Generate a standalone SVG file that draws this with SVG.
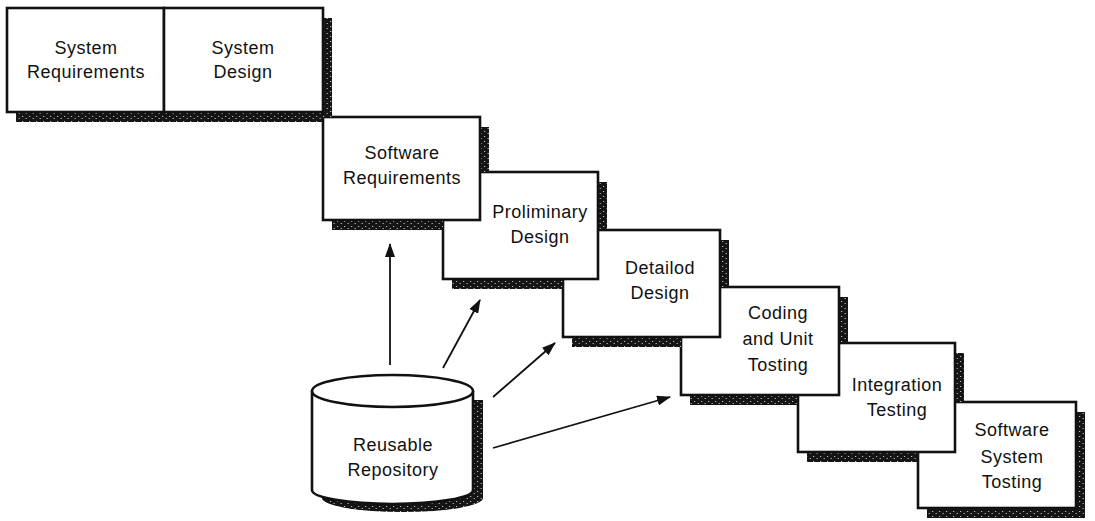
<svg xmlns="http://www.w3.org/2000/svg" width="1095" height="521" viewBox="0 0 1095 521">
<style>
.box{fill:#fff;stroke:#111;stroke-width:2.6}
.sh{fill:url(#speck)}
.t{font-family:"Liberation Sans",Arial,Helvetica,sans-serif;font-size:18px;letter-spacing:0.5px;fill:#111;text-anchor:middle}
.arr{stroke:#111;stroke-width:1.8;fill:none;marker-end:url(#ah)}
</style>
<defs>
<pattern id="speck" width="7" height="5" patternUnits="userSpaceOnUse">
<rect width="7" height="5" fill="#151515"/>
<rect x="1" y="1" width="1.2" height="1" fill="#bbb"/>
<rect x="4.5" y="3" width="1.5" height="1" fill="#999"/>
</pattern>
<marker id="ah" viewBox="0 0 14 10" refX="13" refY="5" markerWidth="14" markerHeight="10" markerUnits="userSpaceOnUse" orient="auto">
<path d="M0,0 L14,5 L0,10 Z" fill="#111"/>
</marker>
</defs>

<g id="software-system-testing">
<rect class="sh" x="1076" y="412" width="9" height="106"/>
<rect class="sh" x="927" y="508" width="158" height="10"/>
<rect class="box" x="918" y="402" width="158" height="106"/>
<text class="t" x="1012" y="436">Software</text>
<text class="t" x="1012" y="463">System</text>
<text class="t" x="1012" y="488">Tosting</text>
</g>

<g id="integration-testing">
<rect class="sh" x="955" y="353" width="9" height="49"/>
<rect class="sh" x="807" y="452" width="111" height="10"/>
<rect class="box" x="798" y="343" width="157" height="109"/>
<text class="t" x="897" y="391">Integration</text>
<text class="t" x="897" y="416">Testing</text>
</g>

<g id="coding-unit-testing">
<rect class="sh" x="839" y="297" width="9" height="46"/>
<rect class="sh" x="690" y="395" width="108" height="10"/>
<rect class="box" x="681" y="287" width="158" height="108"/>
<text class="t" x="778" y="319">Coding</text>
<text class="t" x="778" y="345">and Unit</text>
<text class="t" x="778" y="371">Tosting</text>
</g>

<g id="detailed-design">
<rect class="sh" x="720" y="240" width="9" height="47"/>
<rect class="sh" x="572" y="337" width="109" height="10"/>
<rect class="box" x="563" y="230" width="157" height="107"/>
<text class="t" x="660" y="274">Detailod</text>
<text class="t" x="660" y="299">Design</text>
</g>

<g id="preliminary-design">
<rect class="sh" x="598" y="182" width="9" height="48"/>
<rect class="sh" x="452" y="279" width="111" height="10"/>
<rect class="box" x="443" y="172" width="155" height="107"/>
<text class="t" x="540" y="218">Proliminary</text>
<text class="t" x="540" y="243">Design</text>
</g>

<g id="software-requirements">
<rect class="sh" x="480" y="127" width="9" height="45"/>
<rect class="sh" x="332" y="220" width="111" height="10"/>
<rect class="box" x="323" y="117" width="157" height="103"/>
<text class="t" x="402" y="159">Software</text>
<text class="t" x="402" y="184">Requirements</text>
</g>

<g id="system-requirements-design">
<rect class="sh" x="323" y="18" width="9" height="99"/>
<rect class="sh" x="16" y="112" width="307" height="10"/>
<rect class="box" x="7" y="8" width="157" height="104"/>
<rect class="box" x="164" y="8" width="159" height="104"/>
<text class="t" x="86" y="54">System</text>
<text class="t" x="86" y="78">Requirements</text>
<text class="t" x="243" y="54">System</text>
<text class="t" x="243" y="78">Design</text>
</g>

<g id="reusable-repository">
<path class="sh" d="M322,400 L483,400 L483,498 A80.5,14 0 0 1 322,498 Z"/>
<path class="box" d="M312,391 L312,490 A80.5,14 0 0 0 473,490 L473,391"/>
<ellipse class="box" cx="392.5" cy="391" rx="80.5" ry="16"/>
<text class="t" x="393" y="451">Reusable</text>
<text class="t" x="393" y="476">Repository</text>
</g>

<g id="connectors">
<line class="arr" x1="390" y1="365" x2="390" y2="244"/>
<line class="arr" x1="443" y1="368" x2="480" y2="300"/>
<line class="arr" x1="493" y1="397" x2="555" y2="343"/>
<line class="arr" x1="493" y1="448" x2="670" y2="397"/>
</g>
</svg>
